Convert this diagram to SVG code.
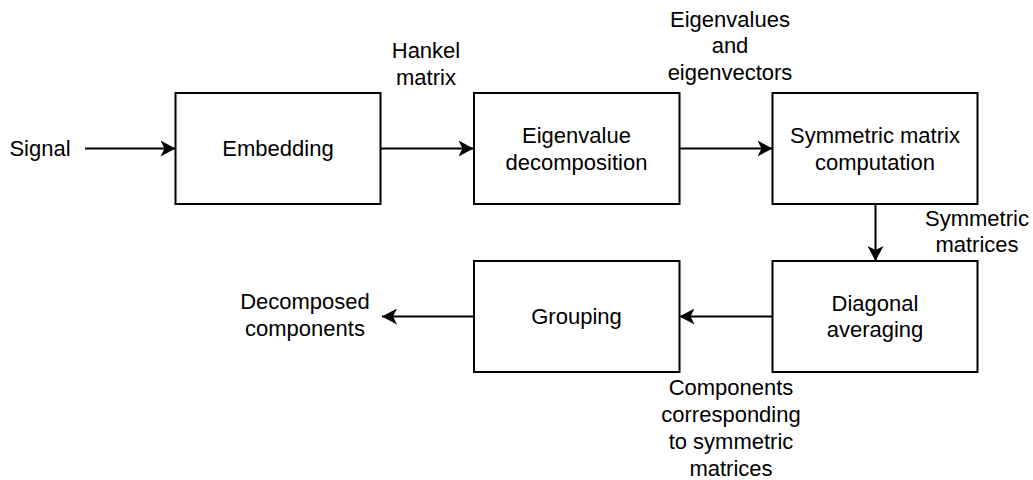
<svg xmlns="http://www.w3.org/2000/svg" width="1033" height="480" viewBox="0 0 1033 480">
<defs>
<style>
.box{fill:#ffffff;stroke:#000000;stroke-width:2}
.edge{fill:none;stroke:#000000;stroke-width:2}
text{font-family:"Liberation Sans",Arial,sans-serif;font-size:22px;fill:#000000;text-anchor:middle}
</style>
<marker id="arrow" markerUnits="userSpaceOnUse" markerWidth="16" markerHeight="16" refX="15" refY="8" orient="auto">
<path d="M0,0 L15,8 L0,16 L4,8 Z" fill="#000000"/>
</marker>
</defs>
<rect width="1033" height="480" fill="#ffffff"/>
<g id="connectors">
<line class="edge" x1="85" y1="148.5" x2="175.5" y2="148.5" marker-end="url(#arrow)"/>
<line class="edge" x1="380.5" y1="148.5" x2="473.5" y2="148.5" marker-end="url(#arrow)"/>
<line class="edge" x1="679.5" y1="148.5" x2="772.5" y2="148.5" marker-end="url(#arrow)"/>
<line class="edge" x1="875.5" y1="204" x2="875.5" y2="261" marker-end="url(#arrow)"/>
<line class="edge" x1="772.5" y1="316.5" x2="679.5" y2="316.5" marker-end="url(#arrow)"/>
<line class="edge" x1="474" y1="316.5" x2="382" y2="316.5" marker-end="url(#arrow)"/>
<text x="426" y="58">Hankel</text>
<text x="426" y="85">matrix</text>
<text x="730" y="27">Eigenvalues</text>
<text x="730" y="53">and</text>
<text x="730" y="80">eigenvectors</text>
<text x="977" y="226">Symmetric</text>
<text x="977" y="252">matrices</text>
<text x="731" y="395">Components</text>
<text x="731" y="422">corresponding</text>
<text x="731" y="449">to symmetric</text>
<text x="731" y="476">matrices</text>
</g>
<g id="signal">
<text x="40" y="156">Signal</text>
</g>
<g id="embedding">
<rect class="box" x="175.5" y="93" width="205" height="111"/>
<text x="278" y="156">Embedding</text>
</g>
<g id="eigen">
<rect class="box" x="474" y="93" width="205.5" height="111"/>
<text x="576.5" y="143">Eigenvalue</text>
<text x="576.5" y="170">decomposition</text>
</g>
<g id="symmetric">
<rect class="box" x="772.5" y="93" width="205" height="111"/>
<text x="875" y="143">Symmetric matrix</text>
<text x="875" y="170">computation</text>
</g>
<g id="diagonal">
<rect class="box" x="772.5" y="261" width="205" height="111"/>
<text x="875" y="311">Diagonal</text>
<text x="875" y="337">averaging</text>
</g>
<g id="grouping">
<rect class="box" x="474" y="261" width="205.5" height="111"/>
<text x="576.5" y="324">Grouping</text>
</g>
<g id="output">
<text x="305" y="309">Decomposed</text>
<text x="305" y="336">components</text>
</g>
</svg>
